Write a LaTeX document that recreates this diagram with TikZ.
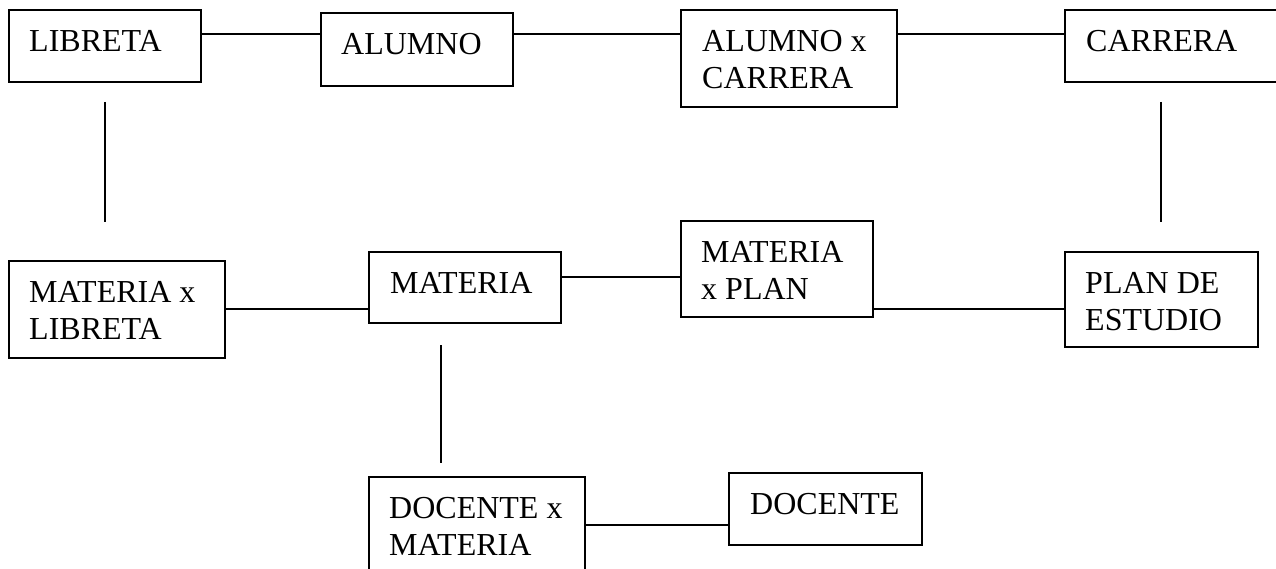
\documentclass[tikz,border=0pt]{standalone}
\usepackage{fontspec}
\setmainfont{Liberation Serif}
\newcommand{\twol}[2]{\vtop{\baselineskip=37pt\hbox{#1}\hbox{#2}}}
\begin{document}
\begin{tikzpicture}[x=1pt,y=-1pt,
  ent/.style={draw, line width=1.1pt, anchor=north west, inner sep=0pt, outer sep=0pt},
  lbl/.style={anchor=base west, inner sep=0pt, font=\fontsize{32}{37}\selectfont},
  conn/.style={line width=1.1pt}]
\useasboundingbox (0,0) rectangle (1276,569);
% boxes
\node[ent, minimum width=192, minimum height=72] (lib) at (9,10) {};
\node[ent, minimum width=192, minimum height=73] (alu) at (321,13) {};
\node[ent, minimum width=216, minimum height=97] (axc) at (681,10) {};
\node[ent, minimum width=216, minimum height=72] (car) at (1065,10) {};
\node[ent, minimum width=216, minimum height=97] (mxl) at (9,261) {};
\node[ent, minimum width=192, minimum height=71] (mat) at (369,252) {};
\node[ent, minimum width=192, minimum height=96] (mxp) at (681,221) {};
\node[ent, minimum width=193, minimum height=95] (pde) at (1065,252) {};
\node[ent, minimum width=216, minimum height=97] (dxm) at (369,477) {};
\node[ent, minimum width=193, minimum height=72] (doc) at (729,473) {};
% labels
\node[lbl] (tlib) at (29,52) {LIBRETA};
\node[lbl] (talu) at (341,55) {ALUMNO};
\node[lbl] (taxc) at (702,52) {\twol{ALUMNO x}{CARRERA}};
\node[lbl] (tcar) at (1086,52) {CARRERA};
\node[lbl] (tmxl) at (29,302) {\twol{MATERIA x}{LIBRETA}};
\node[lbl] (tmat) at (390,293) {MATERIA};
\node[lbl] (tmxp) at (701,262) {\twol{MATERIA}{x PLAN}};
\node[lbl] (tpde) at (1085,293) {\twol{PLAN DE}{ESTUDIO}};
\node[lbl] (tdxm) at (389,518) {\twol{DOCENTE x}{MATERIA}};
\node[lbl] (tdoc) at (750,514) {DOCENTE};
% floating ends
\coordinate (v1a) at (105,102);
\coordinate (v1b) at (105,222);
\coordinate (v2a) at (1161,102);
\coordinate (v2b) at (1161,222);
\coordinate (v3a) at (441,345);
\coordinate (v3b) at (441,463);
% connectors
\draw[conn] (lib.east |- 0,34) -- (alu.west |- 0,34);
\draw[conn] (alu.east |- 0,34) -- (axc.west |- 0,34);
\draw[conn] (axc.east |- 0,34) -- (car.west |- 0,34);
\draw[conn] (v1a) -- (v1b);
\draw[conn] (v2a) -- (v2b);
\draw[conn] (mxl.east |- 0,309) -- (mat.west |- 0,309);
\draw[conn] (mat.east |- 0,277) -- (mxp.west |- 0,277);
\draw[conn] (mxp.east |- 0,309) -- (pde.west |- 0,309);
\draw[conn] (v3a) -- (v3b);
\draw[conn] (dxm.east |- 0,525) -- (doc.west |- 0,525);
\end{tikzpicture}
\end{document}
